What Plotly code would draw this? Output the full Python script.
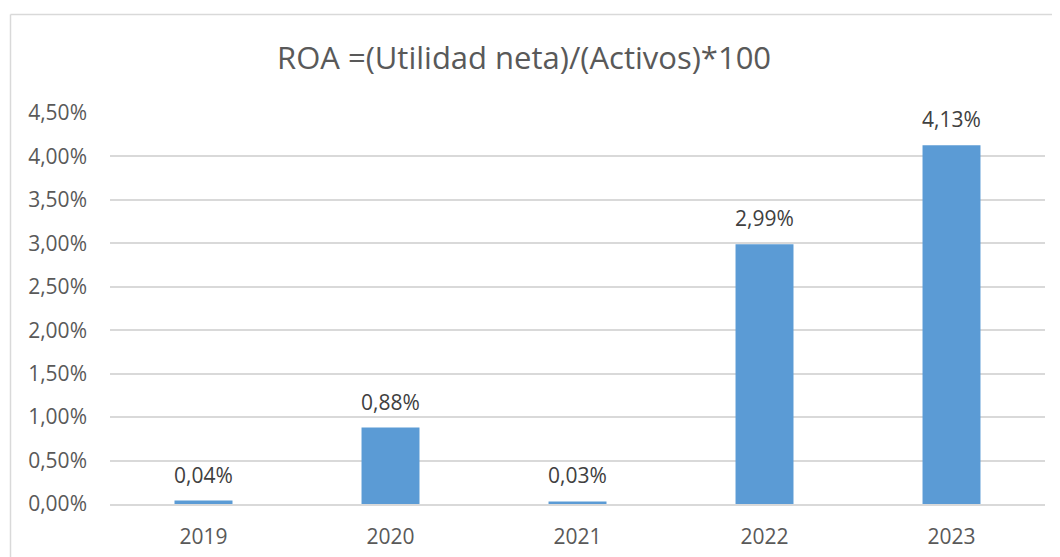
import plotly.graph_objects as go

years = ["2019", "2020", "2021", "2022", "2023"]
roa = [0.0004, 0.0088, 0.0003, 0.0299, 0.0413]
labels = ["0,04%", "0,88%", "0,03%", "2,99%", "4,13%"]
title_text = "ROA =(Utilidad neta)/(Activos)*100"

# the page body adds an 8px margin around the figure
OFF = 8
W, H = 1060 - OFF, 557 - OFF
L, R, T, B = 110 - OFF, 15, 113 - OFF, 53
pw, ph = W - L - R, H - T - B

def px_to_paper_x(px):
    return (px - OFF - L) / pw

def px_to_paper_y(py):
    return (H - B - (py - OFF)) / ph

FONT = "Open Sans"
TXT = "#595959"
FS = 21

fig = go.Figure()
fig.add_trace(go.Bar(x=years, y=roa, marker=dict(color="#5B9BD5", line=dict(width=0)),
                     hoverinfo="skip"))

for i, (y, t) in enumerate(zip(roa, labels)):
    fig.add_annotation(x=i, y=y, text=t, showarrow=False, yanchor="middle", yshift=26,
                       font=dict(family=FONT, size=FS, color="#404040"))

fig.add_annotation(xref="paper", yref="paper", x=px_to_paper_x(524), y=px_to_paper_y(57),
                   text=title_text, showarrow=False, xanchor="center", yanchor="middle",
                   font=dict(family=FONT, size=31, color=TXT))

# chart border (left and top edges visible)
fig.add_shape(type="line", xref="paper", yref="paper",
              x0=px_to_paper_x(10.5), x1=px_to_paper_x(10.5),
              y0=px_to_paper_y(14.5), y1=px_to_paper_y(570),
              line=dict(color="#d9d9d9", width=1.5))
fig.add_shape(type="line", xref="paper", yref="paper",
              x0=px_to_paper_x(10.5), x1=px_to_paper_x(1075),
              y0=px_to_paper_y(14.5), y1=px_to_paper_y(14.5),
              line=dict(color="#d9d9d9", width=1.5))

fig.update_layout(
    width=W, height=H,
    margin=dict(l=L, r=R, t=T, b=B, pad=0, autoexpand=False),
    paper_bgcolor="white", plot_bgcolor="white",
    separators=",.",
    bargap=0.69,
    showlegend=False,
    font=dict(family=FONT, size=FS, color=TXT),
)
fig.update_yaxes(range=[0, 0.045], dtick=0.005, tickformat=".2%", automargin=False,
                 showgrid=True, gridcolor="#d9d9d9", gridwidth=1.5,
                 zeroline=False, showline=False, ticks="", ticklabelstandoff=22,
                 tickfont=dict(family=FONT, size=FS, color=TXT))
fig.update_xaxes(type="category", range=[-0.5, len(years) - 0.5],
                 showgrid=False, showline=True, linecolor="#d9d9d9",
                 linewidth=1.5, automargin=False,
                 ticks="", ticklabelstandoff=13,
                 tickfont=dict(family=FONT, size=FS, color=TXT))

fig.write_html("out.html")
